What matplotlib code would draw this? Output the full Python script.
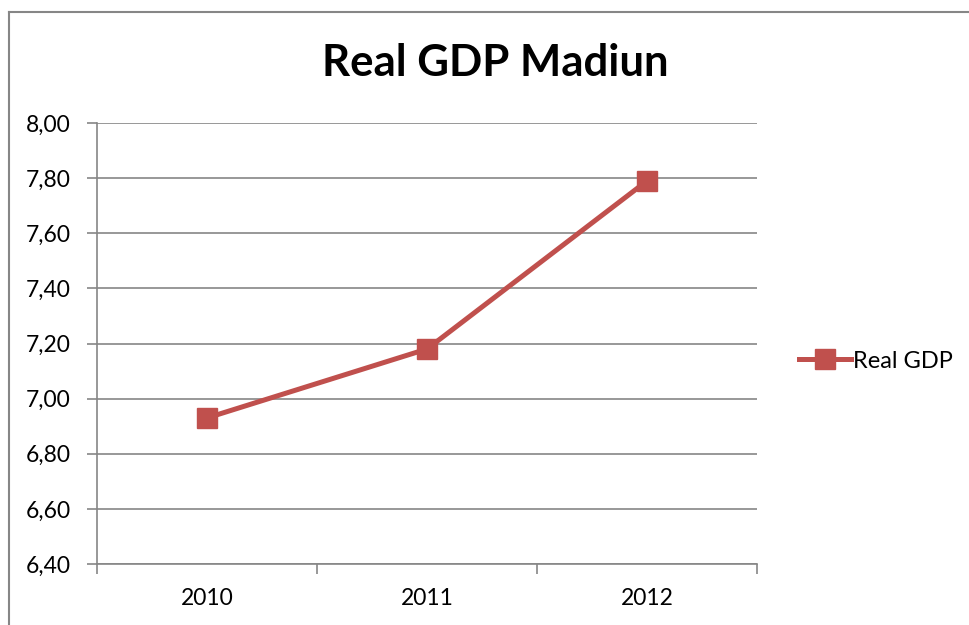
import matplotlib.pyplot as plt
from matplotlib.lines import Line2D

years = ["2010", "2011", "2012"]
real_gdp = [6.93, 7.18, 7.79]
y_ticks = [6.40, 6.60, 6.80, 7.00, 7.20, 7.40, 7.60, 7.80, 8.00]
y_labels = ["6,40", "6,60", "6,80", "7,00", "7,20", "7,40", "7,60", "7,80", "8,00"]

red = "#C0504D"
grey = "#868686"

plt.rcParams['font.family'] = ['Lato', 'DejaVu Sans']

fig = plt.figure(figsize=(9.69, 6.25), dpi=100)
# plot area in pixels: x 97..757, y 123..564
ax = fig.add_axes([97 / 969, 1 - 564 / 625, 660 / 969, 441 / 625])

x = list(range(len(years)))
ax.plot(x, real_gdp, color=red, linewidth=3.6, marker='s', markersize=14.5,
        markerfacecolor=red, markeredgecolor=red, label="Real GDP")

ax.set_xlim(-0.5, len(years) - 0.5)
ax.set_ylim(6.40, 8.00)
ax.set_yticks(y_ticks)
ax.set_yticklabels(y_labels)
ax.set_xticks([-0.5, 0.5, 1.5, 2.5])
ax.set_xticklabels([])
ax.set_xticks(x, minor=True)
ax.set_xticklabels(years, minor=True)
ax.tick_params(axis='x', which='minor', length=0, pad=17, labelsize=16.5)
ax.tick_params(axis='x', which='major', length=7, width=1.2, color=grey, direction='out')
ax.tick_params(axis='y', length=7, width=1.2, color=grey, direction='out', pad=12, labelsize=16.5)

ax.grid(axis='y', color=grey, linewidth=1.2)
ax.set_axisbelow(True)
for side in ['top', 'right']:
    ax.spines[side].set_visible(False)
for side in ['left', 'bottom']:
    ax.spines[side].set_color(grey)
    ax.spines[side].set_linewidth(1.2)

fig.text(495 / 969, 1 - 63 / 625, "Real GDP Madiun", ha='center', va='center',
         fontsize=31.5, fontweight='bold')

handle = Line2D([], [], color=red, linewidth=3.6, marker='s', markersize=14.5)
fig.legend([handle], ["Real GDP"], loc='center left', bbox_to_anchor=(787 / 969, 1 - 361 / 625),
           frameon=False, fontsize=17, handlelength=2.2, handletextpad=0.1, borderpad=0)

# outer chart frame (left and top edges visible)
fig.add_artist(Line2D([8.5 / 969, 8.5 / 969], [0, 1 - 12 / 625], color=grey, linewidth=1.5,
                      transform=fig.transFigure))
fig.add_artist(Line2D([8.5 / 969, 1], [1 - 12 / 625, 1 - 12 / 625], color=grey, linewidth=1.5,
                      transform=fig.transFigure))

fig.savefig("out.png", dpi=100)
